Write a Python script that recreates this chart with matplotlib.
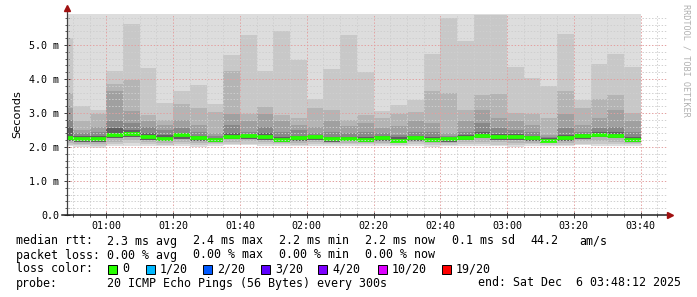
import matplotlib
matplotlib.use("Agg")
import matplotlib.pyplot as plt
from matplotlib.patches import Rectangle
import numpy as np

plt.rcParams["lines.scale_dashes"] = False

# 5 minute slots, start of each slot in minutes after midnight (00:45 ... 03:35)
slot_start = np.arange(45, 220, 5)

# median rtt per slot (ms)
median = [2.26, 2.24, 2.24, 2.36, 2.38, 2.28, 2.24, 2.34, 2.25, 2.21,
          2.30, 2.31, 2.29, 2.20, 2.25, 2.28, 2.22, 2.24, 2.20, 2.25,
          2.19, 2.26, 2.20, 2.22, 2.27, 2.33, 2.28, 2.29, 2.26, 2.19,
          2.25, 2.31, 2.36, 2.33, 2.20]

# upper edges of the smoke bands (outer -> inner), ms
hi2 = [5.20, 3.20, 3.10, 4.22, 5.62, 4.32, 3.29, 3.64, 3.81, 3.26,
       4.69, 5.30, 4.24, 5.42, 4.57, 3.42, 4.30, 5.30, 4.20, 3.05,
       3.22, 3.39, 4.74, 5.79, 5.11, 5.89, 5.89, 4.34, 4.03, 3.78,
       5.32, 3.39, 4.44, 4.72, 4.34]
hi3 = [3.59, 2.75, 2.97, 3.85, 3.98, 2.95, 2.80, 3.25, 3.15, 3.03,
       4.24, 2.97, 3.17, 2.95, 2.85, 3.15, 3.10, 2.80, 2.93, 2.85,
       2.97, 3.03, 3.66, 3.59, 3.10, 3.52, 3.56, 3.00, 2.97, 2.85,
       3.66, 3.15, 3.42, 3.52, 3.00]
hi4 = [3.15, 2.51, 2.60, 3.66, 3.05, 2.75, 2.66, 2.80, 2.66, 2.41,
       2.97, 2.77, 2.97, 2.75, 2.64, 2.58, 2.75, 2.62, 2.70, 2.56,
       2.62, 2.75, 2.70, 2.41, 2.75, 3.10, 2.85, 2.77, 2.66, 2.34,
       2.97, 2.66, 2.85, 3.10, 2.75]
hi5 = [2.80, 2.40, 2.45, 2.75, 2.70, 2.58, 2.50, 2.56, 2.45, 2.32,
       2.64, 2.44, 2.60, 2.45, 2.50, 2.40, 2.45, 2.40, 2.45, 2.40,
       2.35, 2.45, 2.45, 2.32, 2.45, 2.70, 2.55, 2.50, 2.45, 2.30,
       2.56, 2.45, 2.56, 2.60, 2.45]
hi6 = [2.56, 2.31, 2.32, 2.56, 2.50, 2.40, 2.35, 2.42, 2.32, 2.27,
       2.40, 2.36, 2.40, 2.30, 2.32, 2.33, 2.30, 2.30, 2.30, 2.31,
       2.28, 2.32, 2.30, 2.27, 2.34, 2.45, 2.38, 2.38, 2.33, 2.25,
       2.36, 2.38, 2.45, 2.43, 2.30]

# lower edges of the smoke bands (outer -> inner), ms
lo1 = [2.02, 2.00, 1.98, 2.03, 2.04, 2.03, 2.02, 2.03, 1.99, 2.04,
       2.05, 2.05, 2.03, 2.04, 2.02, 2.04, 2.04, 2.03, 2.04, 2.04,
       2.03, 2.04, 2.01, 2.02, 2.04, 2.03, 2.02, 2.01, 2.03, 2.03,
       2.02, 2.05, 2.04, 2.03, 2.04]
lo2 = [2.06, 2.05, 2.04, 2.08, 2.12, 2.08, 2.07, 2.08, 2.05, 2.08,
       2.09, 2.10, 2.08, 2.08, 2.07, 2.09, 2.08, 2.08, 2.08, 2.08,
       2.07, 2.08, 2.06, 2.07, 2.08, 2.08, 2.07, 2.06, 2.08, 2.07,
       2.07, 2.10, 2.09, 2.08, 2.08]
lo3 = [2.12, 2.10, 2.09, 2.16, 2.20, 2.14, 2.12, 2.15, 2.11, 2.13,
       2.16, 2.17, 2.14, 2.12, 2.12, 2.15, 2.12, 2.13, 2.12, 2.13,
       2.11, 2.14, 2.11, 2.12, 2.14, 2.15, 2.14, 2.13, 2.13, 2.11,
       2.13, 2.17, 2.18, 2.16, 2.12]
lo4 = [2.18, 2.15, 2.14, 2.26, 2.28, 2.20, 2.17, 2.24, 2.17, 2.16,
       2.22, 2.24, 2.21, 2.15, 2.18, 2.21, 2.16, 2.18, 2.15, 2.18,
       2.14, 2.19, 2.15, 2.16, 2.20, 2.25, 2.21, 2.21, 2.19, 2.14,
       2.18, 2.24, 2.28, 2.26, 2.15]

x_ticks = [60, 80, 100, 120, 140, 160, 180, 200, 220]
x_labels = ["01:00", "01:20", "01:40", "02:00", "02:20", "02:40", "03:00", "03:20", "03:40"]
y_ticks = [0, 1, 2, 3, 4, 5]
y_labels = ["0.0", "1.0 m", "2.0 m", "3.0 m", "4.0 m", "5.0 m"]

loss_labels = ["0", "1/20", "2/20", "3/20", "4/20", "10/20", "19/20"]
loss_colors = ["#26ff00", "#00b8ff", "#0059ff", "#5e00ff", "#7e00ff", "#dd00ff", "#ff0000"]

W, H = 697, 297
t_start, t_end = 48.2, 228.2
y_top = 5.91
mono = "DejaVu Sans Mono"

fig = plt.figure(figsize=(W / 100, H / 100), dpi=100)
fig.patch.set_facecolor("white")
ax = fig.add_axes([67 / W, 1 - 215 / H, 601 / W, 201 / H])
ax.set_xlim(t_start, t_end)
ax.set_ylim(0, y_top)

# smoke: nested bands, lightest outermost
bands = [
    (lo1, [y_top] * len(lo1), "#dddddd"),
    (lo2, hi2, "#c8c8c8"),
    (lo3, hi3, "#b4b4b4"),
    (lo4, hi4, "#a0a0a0"),
    (lo4, hi5, "#888888"),
    (lo4, hi6, "#606060"),
]
for lo, hi, col in bands:
    lo = np.array(lo)
    hi = np.array(hi)
    ax.bar(slot_start, hi - lo, bottom=lo, width=5, align="edge",
           color=col, linewidth=0, antialiased=False, zorder=1)

# median line
ax.hlines(median, slot_start, slot_start + 5, color="#26ff00", lw=2.7,
          zorder=3)

# dotted grid drawn over the smoke
for t in np.arange(50, 230, 5):
    major = t % 20 == 0
    ax.axvline(t, color="#e3a0a0" if major else "#cfcfcf", lw=0.7,
               linestyle=(0, (1.0, 1.3)), zorder=4)
for v in np.arange(0.2, y_top, 0.2):
    major = abs(v - round(v)) < 1e-6
    ax.axhline(v, color="#e3a0a0" if major else "#cfcfcf", lw=0.7,
               linestyle=(0, (1.0, 1.3)), zorder=4)

for s in ["top", "right", "left", "bottom"]:
    ax.spines[s].set_visible(False)

# axes lines with arrows
ax.plot([0, 0], [0, 1.025], transform=ax.transAxes, color="#404040", lw=0.9,
        clip_on=False, zorder=5)
ax.plot([-0.008, 1.003], [0, 0], transform=ax.transAxes, color="#202020", lw=1.1,
        clip_on=False, zorder=5)
ax.plot([0], [1.03], marker="^", ms=4, color="#a01010", transform=ax.transAxes,
        clip_on=False, zorder=6)
ax.plot([1.004], [0], marker=">", ms=4, color="#a01010", transform=ax.transAxes,
        clip_on=False, zorder=6)

ax.set_xticks(x_ticks)
ax.set_xticklabels(x_labels, fontfamily=mono, fontsize=7.2)
ax.set_xticks(np.arange(50, 230, 5), minor=True)
ax.set_yticks(y_ticks)
ax.set_yticklabels(y_labels, fontfamily=mono, fontsize=7.2)
ax.set_yticks(np.arange(0, y_top, 0.2), minor=True)
ax.tick_params(axis="both", which="major", direction="inout", length=5,
               width=0.7, color="#404040", pad=3)
ax.tick_params(axis="both", which="minor", direction="inout", length=3,
               width=0.6, color="#404040")
ax.tick_params(axis="x", which="major", pad=2)
ax.set_ylabel("Seconds", fontsize=8.2, fontfamily="DejaVu Sans")
ax.yaxis.set_label_coords(-0.075, 0.5)

# watermark
fig.text(686 / W, 1 - 4 / H, "RRDTOOL / TOBI OETIKER", rotation=270,
         fontfamily=mono, fontsize=6.1, color="#b0b0b0", ha="center", va="top")

# legend / stats lines
def put(x, y, s):
    fig.text(x / W, 1 - y / H, s, fontfamily=mono, fontsize=8.4,
             ha="left", va="center", color="black")

row1 = [(16, "median rtt:"), (107, "2.3 ms avg"), (193, "2.4 ms max"),
        (279, "2.2 ms min"), (365, "2.2 ms now"), (452, "0.1 ms sd"),
        (530, "44.2"), (579, "am/s")]
row2 = [(16, "packet loss:"), (107, "0.00 % avg"), (193, "0.00 % max"),
        (279, "0.00 % min"), (365, "0.00 % now")]
row4 = [(16, "probe:"), (107, "20 ICMP Echo Pings (56 Bytes) every 300s"),
        (478, "end: Sat Dec  6 03:48:12 2025")]
for x, s in row1:
    put(x, 241, s)
for x, s in row2:
    put(x, 255, s)
put(16, 269, "loss color:")
box_x = [108, 146, 203, 261, 318, 378, 442]
for bx, lab, col in zip(box_x, loss_labels, loss_colors):
    fig.patches.append(Rectangle((bx / W, 1 - 273.5 / H), 9 / W, 9 / H,
                                 transform=fig.transFigure, facecolor=col,
                                 edgecolor="black", lw=0.7))
    put(bx + 14, 269, lab)
for x, s in row4:
    put(x, 283, s)

fig.savefig("out.png", dpi=100, facecolor="white")
